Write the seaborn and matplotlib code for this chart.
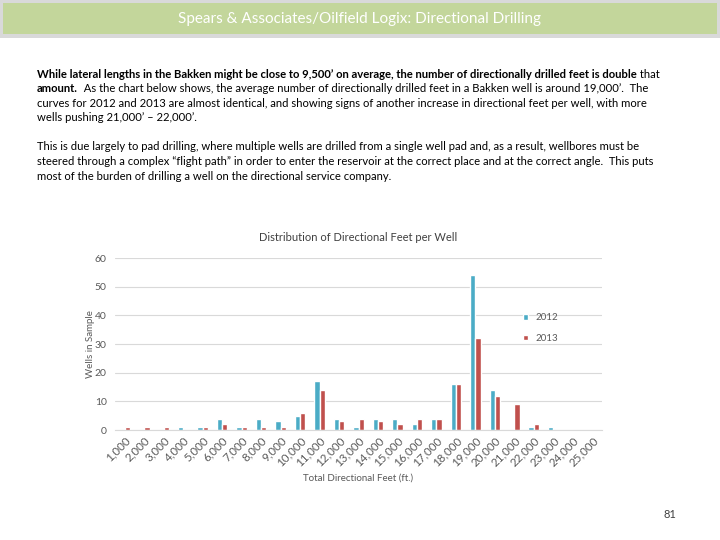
import pandas as pd
import seaborn as sns
import matplotlib.pyplot as plt
from matplotlib.patches import Rectangle

# Directional feet buckets and well counts
feet = [f"{v:,}" for v in range(1000, 26000, 1000)]
wells_2012 = [0, 0, 0, 1, 1, 4, 1, 4, 3, 5, 17, 4, 1, 4, 4, 2, 4, 16, 54, 14, 0, 1, 1, 0, 0]
wells_2013 = [1, 1, 1, 0, 1, 2, 1, 1, 1, 6, 14, 3, 4, 3, 2, 4, 4, 16, 32, 12, 9, 2, 0, 0, 0]
years = ["2012", "2013"]

title = "Spears & Associates/Oilfield Logix: Directional Drilling"
# each line: list of (text, bold)
para_lines = [
    [("While lateral lengths in the Bakken might be close to 9,500\u2019 on average, the number of directionally drilled feet is double", True),
     (" that", False)],
    [("amount.", True),
     ("  As the chart below shows, the average number of directionally drilled feet in a Bakken well is around 19,000\u2019.  The", False)],
    [("curves for 2012 and 2013 are almost identical, and showing signs of another increase in directional feet per well, with more", False)],
    [("wells pushing 21,000\u2019 \u2013 22,000\u2019.", False)],
    None,
    [("This is due largely to pad drilling, where multiple wells are drilled from a single well pad and, as a result, wellbores must be", False)],
    [("steered through a complex \u201cflight path\u201d in order to enter the reservoir at the correct place and at the correct angle.  This puts", False)],
    [("most of the burden of drilling a well on the directional service company.", False)],
]

df = pd.DataFrame({
    "feet": feet * 2,
    "wells": wells_2012 + wells_2013,
    "year": [years[0]] * len(feet) + [years[1]] * len(feet),
})

sns.set_style("white")
plt.rcParams['font.family'] = ['Lato', 'DejaVu Sans']

fig = plt.figure(figsize=(7.2, 5.4), dpi=100)
renderer = fig.canvas.get_renderer()

# header band
fig.patches.append(Rectangle((0.0, 1 - 38 / 540), 1.0, 38 / 540, transform=fig.transFigure,
                             facecolor="#d9d9d9", edgecolor="none"))
fig.patches.append(Rectangle((3 / 720, 1 - 34 / 540), 714 / 720, 31 / 540, transform=fig.transFigure,
                             facecolor="#c3d69b", edgecolor="none"))
fig.text(0.5, 1 - 19 / 540, title, ha="center", va="center", color="white", fontsize=11)

# body text, line by line so the bold runs can be mixed in
y = 74
for line in para_lines:
    if line is None:
        y += 14.6
        continue
    x = 37
    for txt, bold in line:
        t = fig.text(x / 720, 1 - y / 540, txt, ha="left", va="center", fontsize=8.1,
                     fontweight="bold" if bold else "normal", color="black")
        x += t.get_window_extent(renderer).width
    y += 14.6

fig.text(670 / 720, 1 - 515 / 540, "81", ha="center", va="center", fontsize=8, color="#404040")

ax = fig.add_axes([115 / 720, 1 - 430 / 540, 487 / 720, 172 / 540])
sns.barplot(data=df, x="feet", y="wells", hue="year", ax=ax, width=0.55,
            palette={"2012": "#4bacc6", "2013": "#c0504d"}, saturation=1, legend=True)

ax.set_ylim(0, 60)
ax.set_yticks(range(0, 61, 10))
ax.yaxis.grid(True, color="#d9d9d9", linewidth=0.8)
ax.set_axisbelow(True)
for s in ["top", "right", "left"]:
    ax.spines[s].set_visible(False)
ax.spines["bottom"].set_color("#d9d9d9")
ax.tick_params(axis="both", length=0, labelsize=7.5, colors="#595959")
ax.tick_params(axis="x", labelsize=8.3)
ax.tick_params(axis="y", pad=6)
plt.setp(ax.get_xticklabels(), rotation=45, ha="right", rotation_mode="anchor")
ax.set_title("Distribution of Directional Feet per Well", fontsize=8, color="#404040", pad=12)
ax.set_xlabel("Total Directional Feet (ft.)", fontsize=7, color="#595959", labelpad=4)
ax.set_ylabel("Wells in Sample", fontsize=7, color="#595959", labelpad=0)
ax.legend(loc="upper left", bbox_to_anchor=(0.82, 0.73), frameon=False, fontsize=7,
          labelspacing=1.2, handlelength=0.5, handleheight=0.5, labelcolor="#595959")

plt.savefig("out.png", dpi=100)
